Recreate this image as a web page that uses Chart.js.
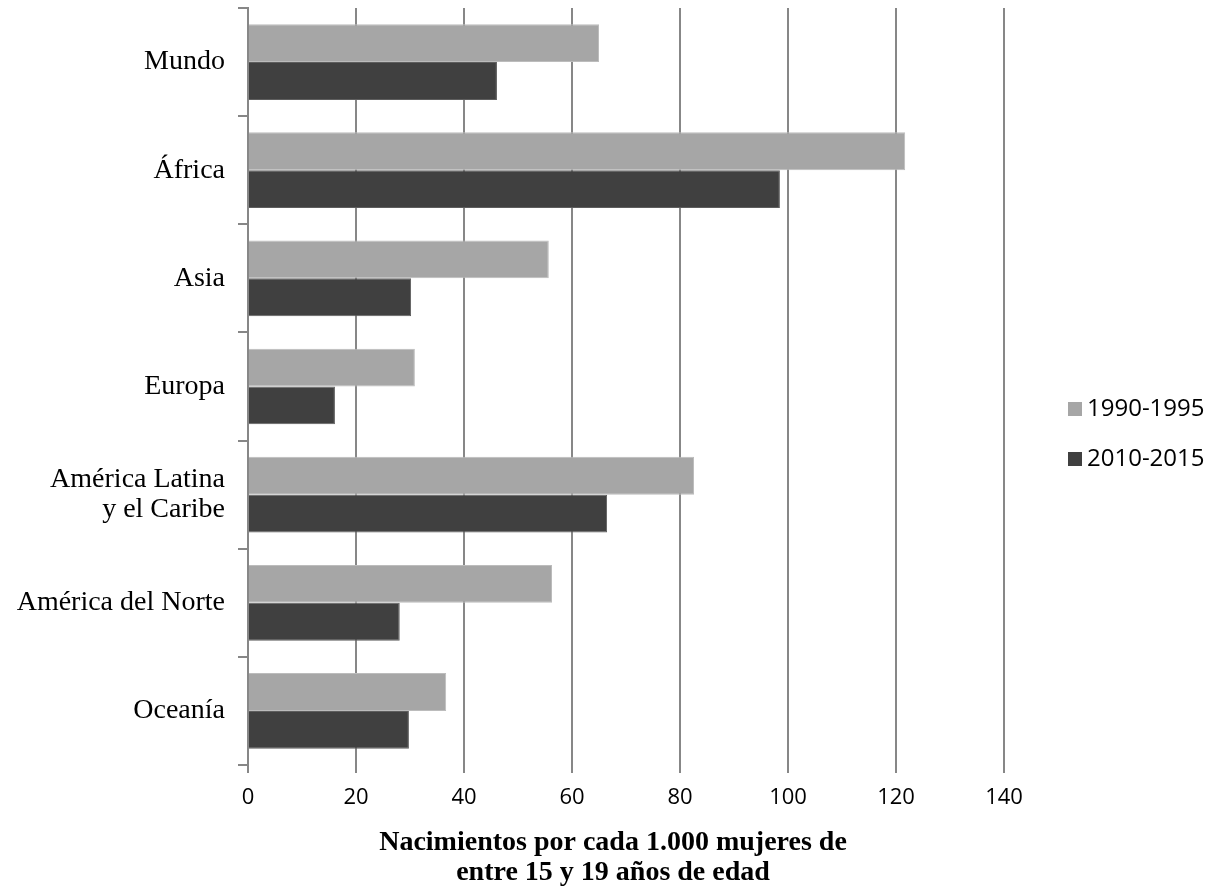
<!DOCTYPE html>
<html>
<head>
<meta charset="utf-8">
<script src="https://cdn.jsdelivr.net/npm/chart.js@4/dist/chart.umd.min.js"></script>
<style>
  html, body { margin: 0; padding: 0; background: #fff; }
  canvas { display: block; }
</style>
</head>
<body>
<canvas id="chart" width="1217" height="890"></canvas>
<script>
// regions (top to bottom)
const categories = ['Mundo', 'África', 'Asia', 'Europa', ['América Latina', 'y el Caribe'], 'América del Norte', 'Oceanía'];
const series1990 = [65.0, 121.7, 55.7, 30.9, 82.6, 56.3, 36.7];
const series2010 = [46.1, 98.5, 30.2, 16.1, 66.5, 28.1, 29.8];
const seriesLabels = ['1990-1995', '2010-2015'];
const xTicks = [0, 20, 40, 60, 80, 100, 120, 140];
const axisTitle = ['Nacimientos por cada 1.000 mujeres de', 'entre 15 y 19 años de edad'];

const GRID = '#878787';
const SERIF = '"Liberation Serif", "Times New Roman", serif';
const SANS = '"Open Sans", "Liberation Sans", sans-serif';

// legend + axis title, placed like the office chart
const extras = {
  id: 'extras',
  afterDraw(chart) {
    const ctx = chart.ctx;
    ctx.save();
    ctx.font = '24px ' + SANS;
    ctx.textBaseline = 'middle';
    chart.data.datasets.forEach((ds, i) => {
      const y = 409 + i * 50;
      ctx.fillStyle = ds.backgroundColor;
      ctx.fillRect(1068, y - 7, 14, 14);
      ctx.fillStyle = '#000';
      ctx.fillText(ds.label, 1087, y);
    });
    ctx.font = 'bold 28px ' + SERIF;
    ctx.textAlign = 'center';
    axisTitle.forEach((line, i) => ctx.fillText(line, 613, 843 + i * 30));
    ctx.restore();
  }
};

new Chart(document.getElementById('chart'), {
  type: 'bar',
  data: {
    labels: categories,
    datasets: [
      { label: seriesLabels[0], data: series1990, backgroundColor: '#a6a6a6', borderColor: '#bcbcbc', borderWidth: 1 },
      { label: seriesLabels[1], data: series2010, backgroundColor: '#404040', borderColor: '#5e5e5e', borderWidth: 1 },
    ],
  },
  options: {
    indexAxis: 'y',
    responsive: false,
    animation: false,
    categoryPercentage: 0.7,
    barPercentage: 1.0,
    layout: { padding: { top: 8, right: 213, left: 0, bottom: 0 } },
    plugins: { legend: { display: false }, tooltip: { enabled: false } },
    scales: {
      x: {
        min: 0, max: 140,
        afterBuildTicks: s => { s.ticks = xTicks.map(v => ({ value: v })); },
        afterFit: s => { s.height = 890 - 765; },
        grid: { color: GRID, lineWidth: 2, tickLength: 8, tickColor: GRID },
        border: { display: false },
        ticks: { color: '#000', font: { family: SANS, size: 22 }, padding: 12 },
      },
      y: {
        afterFit: s => { s.width = 248; s.paddingTop = 0; s.paddingBottom = 0; },
        grid: { drawOnChartArea: false, color: GRID, lineWidth: 2, tickLength: 10, tickColor: GRID, offset: true },
        border: { display: true, color: GRID, width: 2 },
        ticks: { color: '#000', font: { family: SERIF, size: 28, lineHeight: 1.07 }, padding: 13 },
      },
    },
  },
  plugins: [extras],
});
</script>
</body>
</html>
